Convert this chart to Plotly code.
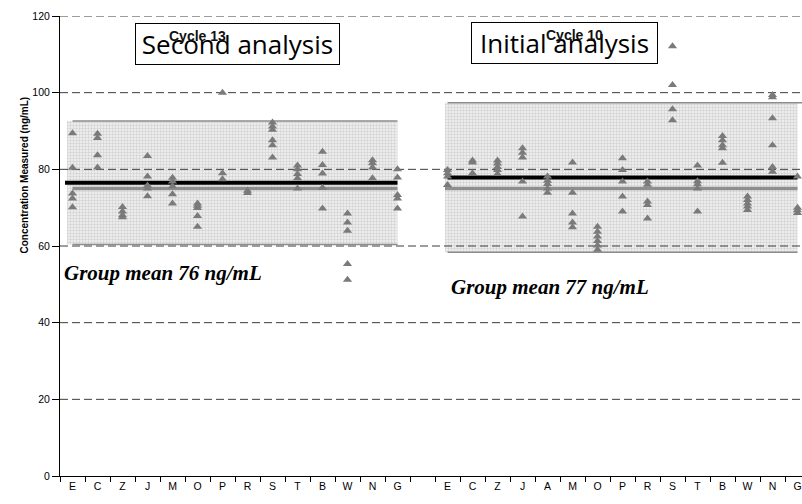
import plotly.graph_objects as go

# Laboratory codes shown on the x axis for each round
second_labs = ["E", "C", "Z", "J", "M", "O", "P", "R", "S", "T", "B", "W", "N", "G"]
initial_labs = ["E", "C", "Z", "J", "A", "M", "O", "P", "R", "S", "T", "B", "W", "N", "G"]

# Measured concentrations (ng/mL), one list per laboratory
second_values = [
    [89.4, 80.4, 73.7, 72.4, 70.1],
    [89.3, 88.2, 83.7, 80.5],
    [70.2, 69.0, 68.0, 67.5],
    [83.5, 78.1, 75.8, 75.0, 73.0],
    [77.8, 76.8, 75.6, 73.5, 71.1],
    [71.1, 70.5, 69.9, 67.8, 65.0],
    [100.0, 79.0, 77.4],
    [74.4, 73.8],
    [92.2, 91.2, 90.3, 87.6, 86.3, 83.1],
    [81.0, 80.0, 78.8, 77.7, 75.0],
    [84.6, 81.1, 78.9, 75.2, 69.8],
    [68.5, 66.1, 64.0, 55.3, 51.2],
    [82.4, 81.6, 80.5, 77.7],
    [80.0, 77.9, 73.3, 72.4, 69.8],
]
initial_values = [
    [79.8, 79.0, 78.1, 75.9],
    [82.3, 81.8, 79.0],
    [82.3, 81.5, 80.6, 79.8, 78.8],
    [85.5, 84.3, 83.1, 76.8, 67.7],
    [78.1, 77.0, 76.2, 75.0, 73.9],
    [81.8, 73.9, 68.5, 66.1, 64.9],
    [65.0, 63.7, 62.5, 61.3, 60.1, 59.0],
    [82.9, 79.8, 76.8, 72.9, 69.0],
    [76.8, 76.0, 71.6, 70.7, 67.2],
    [112.1, 102.0, 95.7, 92.8],
    [81.0, 76.9, 76.1, 75.0, 69.0],
    [88.7, 87.6, 86.3, 85.5, 81.7],
    [72.9, 72.0, 71.1, 70.3, 69.4],
    [99.4, 98.8, 93.3, 86.3, 80.6, 79.4],
    [78.1, 70.0, 69.3, 68.6],
]

# Summary statistics per round
target_value = 75.0
second_mean, second_upper, second_lower = 76.5, 92.6, 60.4
initial_mean, initial_upper, initial_lower = 77.9, 97.4, 58.4
second_mean_label = "Group mean 76 ng/mL"
initial_mean_label = "Group mean 77 ng/mL"

y_ticks = [0, 20, 40, 60, 80, 100, 120]

# Slot positions: second round on the left, one empty slot, initial round on the right
second_x0 = 0
initial_x0 = len(second_labs) + 1
n_slots = initial_x0 + len(initial_labs)
second_pos = [second_x0 + i for i in range(len(second_labs))]
initial_pos = [initial_x0 + i for i in range(len(initial_labs))]
second_end = second_pos[-1]
initial_end = initial_pos[-1]

X_MIN, X_MAX = -0.5, -0.5 + 742 / 25.0

fig = go.Figure()


def band(x0, x1, lo, hi):
    fig.add_trace(go.Scatter(
        x=[x0, x1, x1, x0, x0], y=[lo, lo, hi, hi, lo],
        mode="lines", line=dict(width=0), fill="toself",
        fillcolor="#e6e6e6",
        fillpattern=dict(shape="+", size=3, solidity=0.25,
                         fgcolor="#c4c4c4", bgcolor="#ececec", fillmode="replace"),
        hoverinfo="skip", showlegend=False))


def hline(x0, x1, y, color, width, dash="solid"):
    fig.add_trace(go.Scatter(
        x=[x0, x1], y=[y, y], mode="lines",
        line=dict(color=color, width=width, dash=dash),
        hoverinfo="skip", showlegend=False))


# Acceptance bands (mean +/- 2 SD)
band(second_x0 - 0.22, second_end, second_lower, second_upper)
band(initial_x0 - 0.1, initial_end, initial_lower, initial_upper)

# Dashed horizontal gridlines drawn over the bands
for v in y_ticks[1:]:
    hline(X_MIN, X_MAX, v, "#3c3c3c", 1, "8px,4px")

# Band limit lines
hline(second_x0, second_end, second_upper, "#8c8c8c", 1.5)
hline(second_x0, second_end, second_lower, "#8c8c8c", 1.5)
hline(initial_x0, X_MAX, initial_upper, "#8c8c8c", 1.5)
hline(initial_x0, initial_end, initial_lower, "#8c8c8c", 1.5)

# Target value lines
hline(second_x0, second_end, target_value, "#8e8e8e", 3.5)
hline(initial_x0 - 0.1, initial_end, target_value, "#8e8e8e", 3.5)

# Group mean lines
hline(second_x0 - 0.3, second_end, second_mean, "#000000", 4)
hline(initial_x0, initial_end, initial_mean, "#000000", 4)

# Individual results
px, py = [], []
for pos, vals in zip(second_pos + initial_pos, second_values + initial_values):
    for v in vals:
        px.append(pos)
        py.append(v)
fig.add_trace(go.Scatter(
    x=px, y=py, mode="markers",
    marker=dict(symbol="triangle-up", size=8, color="#7a7a7a", line=dict(width=0)),
    showlegend=False, hoverinfo="y"))

# Panel titles
fig.add_annotation(x=6.6, y=112.7, xref="x", yref="y", text="Second analysis",
                   showarrow=False, font=dict(family="Open Sans", size=26, color="#000"),
                   bordercolor="#000", borderwidth=1, borderpad=0, bgcolor="#fff",
                   width=203, height=40, xanchor="center", yanchor="middle")
fig.add_annotation(x=4.98, y=114.8, xref="x", yref="y", text="<b>Cycle 13</b>",
                   showarrow=False, font=dict(family="Liberation Sans", size=14, color="#111"))
fig.add_annotation(x=19.66, y=112.9, xref="x", yref="y", text="Initial analysis",
                   showarrow=False, font=dict(family="Open Sans", size=26, color="#000"),
                   bordercolor="#000", borderwidth=1, borderpad=0, bgcolor="#fff",
                   width=185, height=40, xanchor="center", yanchor="middle")
fig.add_annotation(x=20.06, y=115.0, xref="x", yref="y", text="<b>Cycle 10</b>",
                   showarrow=False, font=dict(family="Liberation Sans", size=14, color="#111"))

# Group mean labels
fig.add_annotation(x=-0.41, y=53.0, xref="x", yref="y", text="<b><i>" + second_mean_label + "</i></b>",
                   showarrow=False, xanchor="left", yanchor="middle",
                   font=dict(family="Liberation Serif", size=21, color="#000"))
fig.add_annotation(x=15.05, y=49.4, xref="x", yref="y", text="<b><i>" + initial_mean_label + "</i></b>",
                   showarrow=False, xanchor="left", yanchor="middle",
                   font=dict(family="Liberation Serif", size=21, color="#000"))

# Y axis title
fig.add_annotation(x=-44 / 742, y=(476 - 175) / 460, xref="paper", yref="paper",
                   text="<b>Concentration Measured (ng/mL)</b>", textangle=-90,
                   showarrow=False, font=dict(family="Liberation Sans", size=10, color="#000"))

fig.update_layout(
    width=802, height=504,
    margin=dict(l=60, r=0, t=16, b=28),
    paper_bgcolor="#ffffff", plot_bgcolor="#ffffff",
    font=dict(family="Liberation Sans", size=10, color="#000"),
    showlegend=False,
)
fig.update_xaxes(
    range=[X_MIN, X_MAX],
    tickmode="array", tickvals=second_pos + initial_pos, ticktext=second_labs + initial_labs,
    ticks="", showgrid=False, zeroline=False,
    showline=True, linecolor="#000", linewidth=1,
    tickfont=dict(size=10.5),
    minor=dict(tickmode="array", tickvals=[i - 0.5 for i in range(n_slots + 1)],
               ticks="outside", ticklen=5, tickcolor="#000", tickwidth=1, showgrid=False),
)
fig.update_yaxes(
    range=[0, 120], tickvals=y_ticks, ticks="outside", ticklen=7, tickcolor="#000",
    showgrid=False, zeroline=False, showline=True, linecolor="#000", linewidth=1,
    tickfont=dict(size=10.5),
)

fig.write_html("out.html")
